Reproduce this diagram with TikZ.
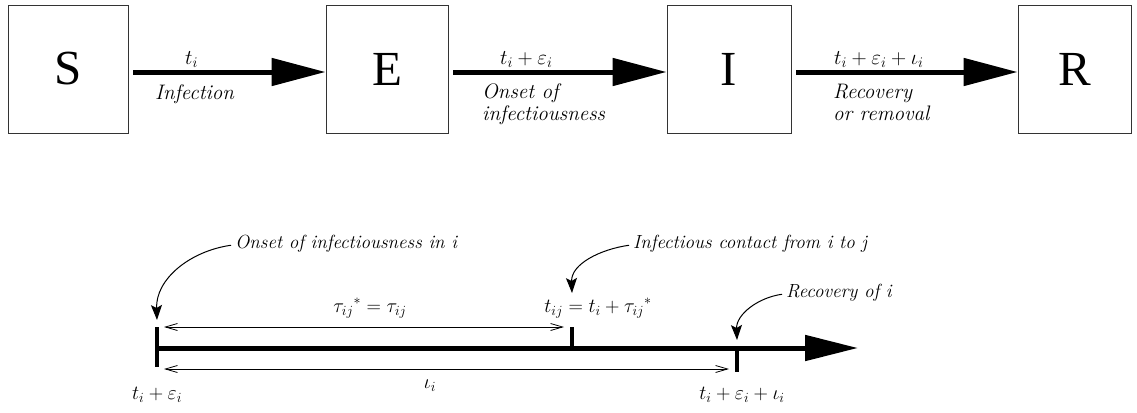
\RequirePackage{fix-cm}
\documentclass[tikz,border=0pt]{standalone}
\usepackage{fontspec}
\setmainfont{Liberation Serif}
\usetikzlibrary{arrows.meta}
\newcommand{\itl}{\fontfamily{lmr}\itshape}
\begin{document}
\begin{tikzpicture}[x=1pt,y=-1pt,
  box/.style={draw=black!80,line width=0.9pt,minimum height=128pt,inner sep=0pt,font=\fontsize{49}{49}\selectfont},
  flow/.style={line width=5pt,shorten <=5pt,-{Triangle[length=54pt,width=27pt]}},
  lab/.style={font=\fontsize{21}{23}\itl\selectfont,inner sep=0pt,anchor=base west},
  clab/.style={font=\fontsize{19}{21}\itl\selectfont,inner sep=0pt,anchor=base west},
  mlab/.style={font=\fontsize{20}{22}\selectfont,inner sep=0pt,anchor=base},
  tick/.style={line width=3.5pt},
  axis/.style={line width=5pt,-{Triangle[length=53pt,width=25pt]}},
  span/.style={line width=0.8pt,{Straight Barb[length=12pt,width=7pt]}-{Straight Barb[length=12pt,width=7pt]}},
  call/.style={line width=1pt,-{Stealth[length=15pt,width=11pt,inset=3pt]}}
]
\useasboundingbox (0,0) rectangle (1137,412);
% top compartments
\node[box,minimum width=120pt] (S) at (68,69) {S};
\node[box,minimum width=122pt] (E) at (387,69) {E};
\node[box,minimum width=124pt] (I) at (729,69) {I};
\node[box,minimum width=113pt] (R) at (1074.5,69) {R};
\draw[flow] ([yshift=-3pt]S.east) -- ([yshift=-3pt]E.west);
\draw[flow] ([yshift=-3pt]E.east) -- ([yshift=-3pt]I.west);
\draw[flow] ([yshift=-3pt]I.east) -- ([yshift=-3pt]R.west);
% labels
\node[lab] (l1) at (185,64) {$t_i$};
\node[lab] (l2) at (155,99) {Infection};
\node[lab] (l3) at (500,64) {$t_i + \varepsilon_i$};
\node[lab] (l4) at (482,98) {Onset of};
\node[lab] (l5) at (482,120) {infectiousness};
\node[lab] (l6) at (834,64) {$t_i + \varepsilon_i + \iota_i$};
\node[lab] (l7) at (833,98) {Recovery};
\node[lab] (l8) at (833,120) {or removal};
% timeline
\coordinate (a0) at (157,348);
\coordinate (a1) at (858,348);
\draw[axis] (a0) -- (a1);
\coordinate (k1t) at (157,327);
\coordinate (k1b) at (157,367);
\coordinate (k2t) at (572,327);
\coordinate (k2b) at (572,348);
\coordinate (k3t) at (737,348);
\coordinate (k3b) at (737,372);
\draw[tick] (k1t) -- (k1b);
\draw[tick] (k2t) -- (k2b);
\draw[tick] (k3t) -- (k3b);
\coordinate (s1a) at (164,327);
\coordinate (s1b) at (564,327);
\coordinate (s2a) at (164,369);
\coordinate (s2b) at (729,369);
\draw[span] (s1a) -- (s1b);
\draw[span] (s2a) -- (s2b);
\node[mlab] (tau) at (370,312) {$\tau_{ij}{}^{*} = \tau_{ij}$};
\node[mlab] (tij) at (598,312) {$t_{ij} = t_i + \tau_{ij}{}^{*}$};
\node[mlab] (iota) at (430,388) {$\iota_i$};
\node[mlab] (b1) at (157,399) {$t_i + \varepsilon_i$};
\node[mlab] (b2) at (742,399) {$t_i + \varepsilon_i + \iota_i$};
% callouts
\node[clab] (c1) at (235,248) {Onset of infectiousness in i};
\node[clab] (c2) at (633,248) {Infectious contact from i to j};
\node[clab] (c3) at (786,297) {Recovery of i};
\coordinate (p1) at (157,320);
\coordinate (p2) at (572,293);
\coordinate (p3) at (737,340);
\draw[call] ([xshift=-4pt,yshift=-2pt]c1.west) to[out=188,in=92] (p1);
\draw[call] ([xshift=-4pt,yshift=-2pt]c2.west) to[out=188,in=92] (p2);
\draw[call] ([xshift=-4pt,yshift=-2pt]c3.west) to[out=188,in=92] (p3);
\end{tikzpicture}
\end{document}
